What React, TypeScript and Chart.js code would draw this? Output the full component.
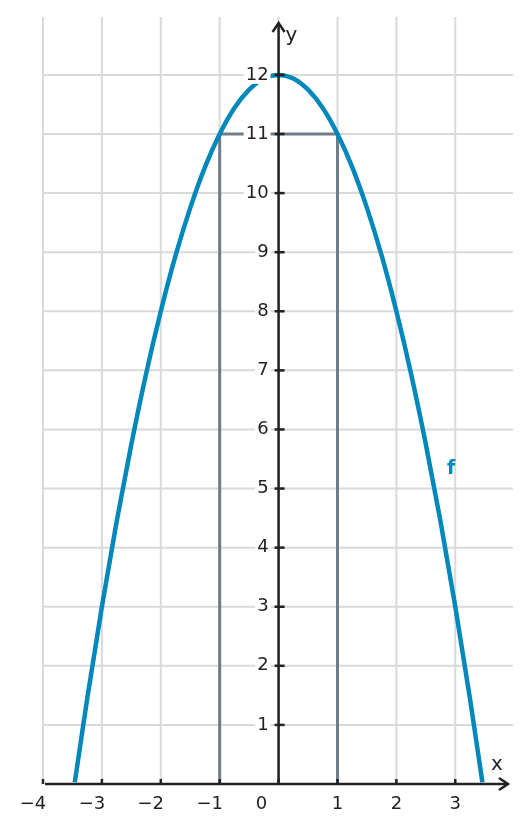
import { useEffect, useRef } from "react";
import { Chart, registerables } from "chart.js";

Chart.register(...registerables);

// f(x)
const curveX = [-3.46, -3.25, -3, -2.75, -2.5, -2.25, -2, -1.75, -1.5, -1.25, -1, -0.75, -0.5, -0.25, 0, 0.25, 0.5, 0.75, 1, 1.25, 1.5, 1.75, 2, 2.25, 2.5, 2.75, 3, 3.25, 3.46];
const curveY = [0.03, 1.44, 3, 4.44, 5.75, 6.94, 8, 8.94, 9.75, 10.44, 11, 11.44, 11.75, 11.94, 12, 11.94, 11.75, 11.44, 11, 10.44, 9.75, 8.94, 8, 6.94, 5.75, 4.44, 3, 1.44, 0.03];

// rectangle under the curve
const rectX = [-1, -1, 1, 1];
const rectY = [0, 11, 11, 0];

const xTicks = [-4, -3, -2, -1, 0, 1, 2, 3];
const yTicks = [1, 2, 3, 4, 5, 6, 7, 8, 9, 10, 11, 12];

const X_MIN = -4;
const X_MAX = 3.98;
const Y_MIN = 0;
const Y_MAX = 12.98;

const FONT = "DejaVu Sans, sans-serif";
const INK = "#222222";
const BLUE = "#0088bb";

const axesPlugin = {
  id: "axes",
  beforeDatasetsDraw(chart: any) {
    const { ctx, chartArea: a, scales } = chart;
    const xs = scales.x;
    const ys = scales.y;
    ctx.save();
    ctx.strokeStyle = "#d9d9d9";
    ctx.lineWidth = 2;
    for (const t of xTicks) {
      const px = xs.getPixelForValue(t);
      ctx.beginPath();
      ctx.moveTo(px, a.top);
      ctx.lineTo(px, a.bottom);
      ctx.stroke();
    }
    for (const t of yTicks) {
      const py = ys.getPixelForValue(t);
      ctx.beginPath();
      ctx.moveTo(a.left, py);
      ctx.lineTo(a.right, py);
      ctx.stroke();
    }
    ctx.restore();
  },
  afterDatasetsDraw(chart: any) {
    const { ctx, chartArea: a, scales } = chart;
    const xs = scales.x;
    const ys = scales.y;
    const ox = xs.getPixelForValue(0);
    const oy = ys.getPixelForValue(0);
    ctx.save();
    ctx.strokeStyle = INK;
    ctx.fillStyle = INK;
    ctx.lineWidth = 2.5;
    // x axis
    ctx.beginPath();
    ctx.moveTo(a.left + 2, oy);
    ctx.lineTo(a.right - 6, oy);
    ctx.stroke();
    ctx.beginPath();
    ctx.moveTo(a.right - 14, oy - 6);
    ctx.lineTo(a.right - 5, oy);
    ctx.lineTo(a.right - 14, oy + 6);
    ctx.stroke();
    // y axis
    ctx.beginPath();
    ctx.moveTo(ox, oy);
    ctx.lineTo(ox, a.top + 7);
    ctx.stroke();
    ctx.beginPath();
    ctx.moveTo(ox - 6, a.top + 15);
    ctx.lineTo(ox, a.top + 6);
    ctx.lineTo(ox + 6, a.top + 15);
    ctx.stroke();

    // ticks
    for (const t of xTicks) {
      const px = xs.getPixelForValue(t);
      ctx.beginPath();
      ctx.moveTo(px, oy - 5);
      ctx.lineTo(px, oy);
      ctx.stroke();
    }
    for (const t of yTicks) {
      const py = ys.getPixelForValue(t);
      ctx.beginPath();
      ctx.moveTo(ox - 4, py);
      ctx.lineTo(ox + 6, py);
      ctx.stroke();
    }

    // tick labels
    ctx.font = `18px ${FONT}`;
    ctx.textBaseline = "middle";
    const label = (s: string, x: number, y: number, align: CanvasTextAlign) => {
      ctx.textAlign = align;
      const w = ctx.measureText(s).width;
      const left = align === "right" ? x - w : align === "center" ? x - w / 2 : x;
      ctx.fillStyle = "#ffffff";
      ctx.fillRect(left - 2, y - 9, w + 4, 18);
      ctx.fillStyle = INK;
      ctx.fillText(s, x, y);
    };
    for (const t of xTicks) {
      const px = xs.getPixelForValue(t);
      const s = t < 0 ? "\u2212" + Math.abs(t) : String(t);
      if (t === 0) label(s, ox - 17, oy + 20, "center");
      else label(s, px - (t < 0 ? 10 : 0), oy + 20, "center");
    }
    for (const t of yTicks) {
      const py = ys.getPixelForValue(t);
      label(String(t), ox - 10, py, "right");
    }

    // axis names
    ctx.font = `20px ${FONT}`;
    ctx.fillStyle = INK;
    ctx.textAlign = "left";
    ctx.fillText("x", a.right - 22, oy - 19);
    ctx.fillText("y", ox + 7, a.top + 19);

    // function name
    ctx.font = `bold 19px ${FONT}`;
    ctx.fillStyle = BLUE;
    ctx.textAlign = "center";
    ctx.fillText("f", xs.getPixelForValue(2.93), ys.getPixelForValue(5.33));
    ctx.restore();
  },
};

export default function App() {
  const ref = useRef<HTMLCanvasElement>(null);

  useEffect(() => {
    const canvas = ref.current;
    if (!canvas) return;
    const chart = new Chart(canvas, {
      type: "scatter",
      data: {
        datasets: [
          {
            data: curveX.map((x, i) => ({ x, y: curveY[i] })),
            showLine: true,
            borderColor: BLUE,
            borderWidth: 4.5,
            pointRadius: 0,
            cubicInterpolationMode: "monotone",
            order: 1,
          },
          {
            data: rectX.map((x, i) => ({ x, y: rectY[i] })),
            showLine: true,
            borderColor: "#6e7d87",
            borderWidth: 3,
            pointRadius: 0,
            tension: 0,
            order: 2,
          },
        ],
      },
      options: {
        animation: false,
        responsive: true,
        maintainAspectRatio: false,
        layout: { padding: { left: 43, right: 19, top: 17, bottom: 49 } },
        plugins: { legend: { display: false }, tooltip: { enabled: false } },
        scales: {
          x: { type: "linear", min: X_MIN, max: X_MAX, display: false },
          y: { type: "linear", min: Y_MIN, max: Y_MAX, display: false },
        },
      },
      plugins: [axesPlugin],
    });
    return () => chart.destroy();
  }, []);

  return (
    <div style={{ position: "fixed", left: 0, top: 0, width: 532, height: 833, background: "#fff" }}>
      <canvas ref={ref} />
    </div>
  );
}
